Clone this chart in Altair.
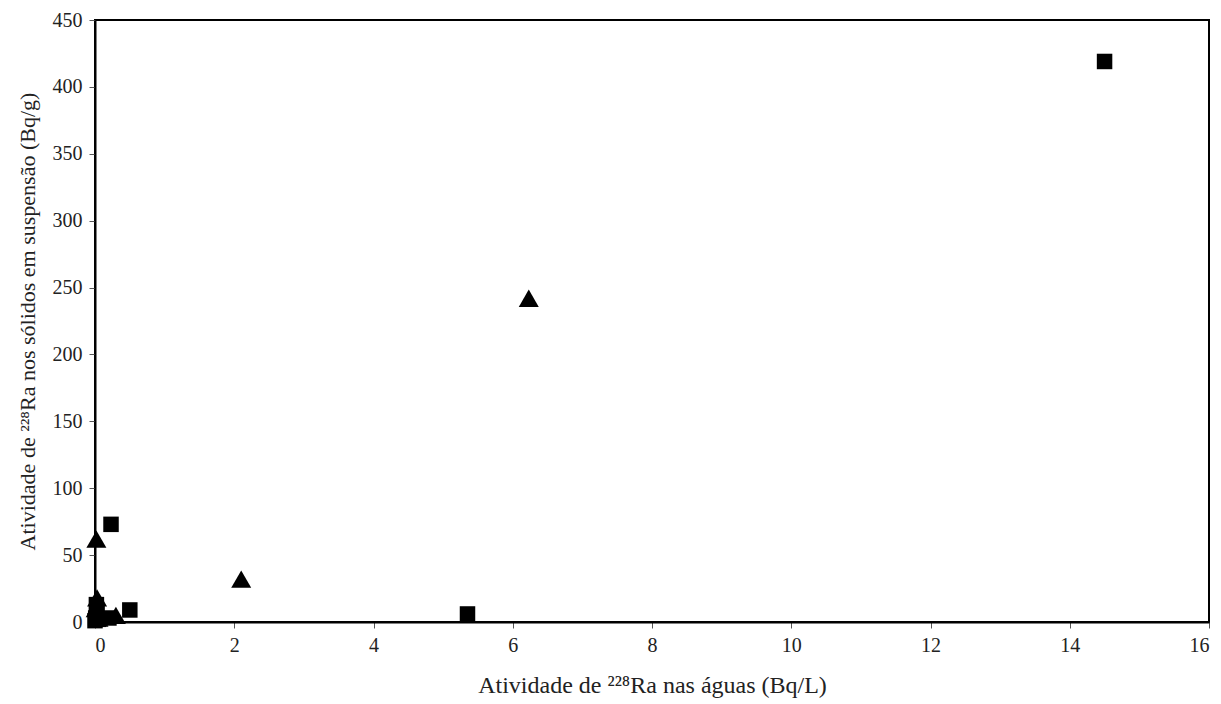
import altair as alt
import pandas as pd

sq_x = [14.5, 5.35, 0.5, 0.23, 0.2, 0.02, 0.01, 0.0, 0.05, 0.03]
sq_y = [419, 6, 9, 73, 3, 13, 3, 1, 2, 8]
tri_x = [6.23, 2.1, 0.02, 0.03, 0.3, 0.01, 0.05]
tri_y = [242, 32, 62, 18, 5, 10, 3]

df = pd.DataFrame({
    "x": sq_x + tri_x,
    "y": sq_y + tri_y,
    "s": ["sq"] * len(sq_x) + ["tri"] * len(tri_x),
})

font = "Liberation Serif"

chart = alt.Chart(df).mark_point(filled=True, opacity=1, color="black").encode(
    x=alt.X("x:Q", scale=alt.Scale(domain=[0, 16], nice=False, zero=True),
            axis=alt.Axis(values=list(range(0, 17, 2)), title="Atividade de ²²⁸Ra nas águas (Bq/L)",
                          grid=False, titlePadding=18, labelFont=font, titleFont=font,
                          titleFontSize=24)),
    y=alt.Y("y:Q", scale=alt.Scale(domain=[0, 450], nice=False),
            axis=alt.Axis(values=list(range(0, 451, 50)),
                          title="Atividade de ²²⁸Ra nos sólidos em suspensão (Bq/g)",
                          grid=False, titlePadding=13, labelFont=font, titleFont=font,
                          titleFontSize=22)),
    shape=alt.Shape("s:N", scale=alt.Scale(domain=["sq", "tri"], range=["square", "triangle-up"]), legend=None),
    size=alt.Size("s:N", scale=alt.Scale(domain=["sq", "tri"], range=[240, 400]), legend=None),
).properties(
    width=1114, height=602,
    autosize=alt.AutoSizeParams(type="none"),
    padding={"left": 87, "top": 12, "right": 4, "bottom": 82},
).configure_view(
    stroke="black", strokeWidth=2
).configure_axis(
    labelFontSize=20,
    titleFontWeight="normal", labelColor="#222", titleColor="#222",
    domainColor="black", domainWidth=2, tickColor="#555", tickSize=6, labelPadding=7,
)

chart.save("out.html", embed_options={"renderer": "svg", "actions": False})
